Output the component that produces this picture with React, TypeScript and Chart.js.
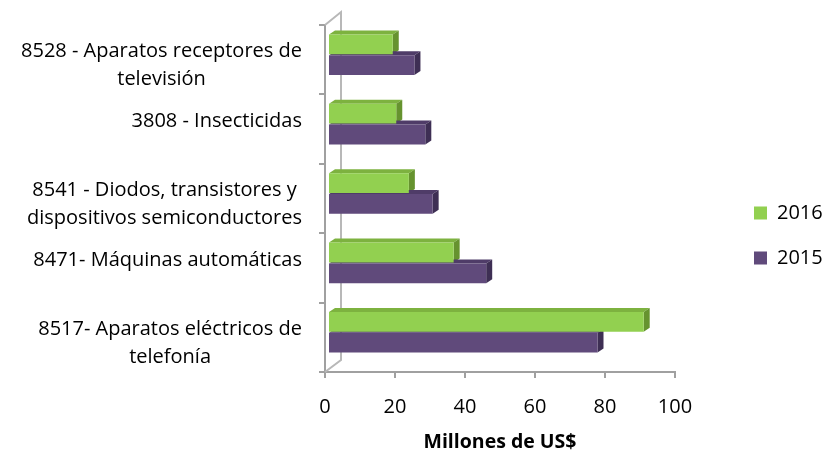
import React, { useEffect, useRef } from 'react';
import { Chart, registerables } from 'chart.js';

Chart.register(...registerables);

const categories: string[][] = [
  ['8528 - Aparatos receptores de', 'televisión'],
  ['3808 - Insecticidas'],
  ['8541 - Diodos, transistores y', 'dispositivos semiconductores'],
  ['8471- Máquinas automáticas'],
  ['8517- Aparatos eléctricos de', 'telefonía'],
];
const seriesNames = ['2016', '2015'];
const values2016 = [18.5, 19.5, 23.1, 35.9, 90.2];
const values2015 = [24.7, 27.8, 29.9, 45.2, 77.0];
const xMin = 0;
const xMax = 100;
const xStep = 20;
const xTitle = 'Millones de US$';

const FONT = "'Open Sans'";
const frontColors = ['#92D050', '#604A7B'];
const topColors = ['#7DB23F', '#4F3C68'];
const sideColors = ['#66932F', '#3E2F54'];

const DX = 6;
const DY = 4;
const SHIFT_X = 3;
const SHIFT_Y = -5;

const wallPlugin = {
  id: 'wall3d',
  beforeDatasetsDraw(chart: any) {
    const { ctx, chartArea } = chart;
    const { left, top, bottom } = chartArea;
    ctx.save();
    ctx.strokeStyle = '#b8b8b8';
    ctx.lineWidth = 2;
    ctx.beginPath();
    ctx.moveTo(left, top);
    ctx.lineTo(left + 16, top - 13);
    ctx.lineTo(left + 16, bottom - 12);
    ctx.lineTo(left, bottom);
    ctx.stroke();
    ctx.restore();
    // bars sit a little behind the front plane
    ctx.save();
    ctx.translate(SHIFT_X, SHIFT_Y);
    chart.data.datasets.forEach((_ds: any, di: number) => {
      const meta = chart.getDatasetMeta(di);
      meta.data.forEach((bar: any) => {
        const p = bar.getProps(['x', 'y', 'base', 'height'], true);
        const t = p.y - p.height / 2;
        const b = p.y + p.height / 2;
        ctx.fillStyle = topColors[di];
        ctx.beginPath();
        ctx.moveTo(p.base, t);
        ctx.lineTo(p.x, t);
        ctx.lineTo(p.x + DX, t - DY);
        ctx.lineTo(p.base + DX, t - DY);
        ctx.closePath();
        ctx.fill();
        ctx.fillStyle = sideColors[di];
        ctx.beginPath();
        ctx.moveTo(p.x, t);
        ctx.lineTo(p.x + DX, t - DY);
        ctx.lineTo(p.x + DX, b - DY);
        ctx.lineTo(p.x, b);
        ctx.closePath();
        ctx.fill();
      });
    });
  },
  afterDatasetsDraw(chart: any) {
    chart.ctx.restore();
  },
  afterDraw(chart: any) {
    const { ctx, chartArea } = chart;
    const yScale = chart.scales.y;
    const right = chartArea.left - 23;
    const lineH = 28;
    ctx.save();
    ctx.font = `20px ${FONT}`;
    ctx.fillStyle = '#000';
    ctx.textAlign = 'center';
    ctx.textBaseline = 'middle';
    categories.forEach((lines, i) => {
      const mid = yScale.getPixelForValue(i);
      const w = Math.max(...lines.map((l) => ctx.measureText(l).width));
      const cx = right - w / 2;
      lines.forEach((l, j) => {
        ctx.fillText(l, cx, mid - 8 + j * lineH);
      });
    });
    ctx.restore();
  },
  afterLayout(chart: any) {
    const lg = chart.legend;
    if (!lg) return;
    const targetLeft = 729;
    const w = lg.width;
    lg.left = targetLeft;
    lg.right = targetLeft + w;
    const h = lg.height;
    const targetTop = 21;
    lg.top = targetTop;
    lg.bottom = targetTop + h;
  },
};

export default function App() {
  const ref = useRef<HTMLCanvasElement | null>(null);
  useEffect(() => {
    document.body.style.margin = '0';
    const canvas = ref.current;
    if (!canvas) return;
    Chart.defaults.font.family = FONT;
    const chart = new Chart(canvas, {
      type: 'bar',
      data: {
        labels: categories.map((c) => c.join(' ')),
        datasets: [
          {
            label: seriesNames[0],
            data: values2016,
            backgroundColor: frontColors[0],
            categoryPercentage: 0.6,
            barPercentage: 0.95,
          },
          {
            label: seriesNames[1],
            data: values2015,
            backgroundColor: frontColors[1],
            categoryPercentage: 0.6,
            barPercentage: 0.95,
          },
        ],
      },
      options: {
        indexAxis: 'y',
        animation: false,
        responsive: true,
        maintainAspectRatio: false,
        layout: { padding: { top: 25, left: 0, right: 0, bottom: 0 } },
        plugins: {
          tooltip: { enabled: false },
          legend: {
            position: 'right',
            align: 'center',
            labels: {
              boxWidth: 13,
              boxHeight: 13,
              padding: 25,
              color: '#000',
              font: { size: 20 },
            },
          },
        },
        scales: {
          x: {
            min: xMin,
            max: xMax,
            ticks: {
              stepSize: xStep,
              color: '#000',
              font: { size: 20 },
              padding: 17,
            },
            grid: {
              drawOnChartArea: false,
              drawTicks: true,
              tickLength: 6,
              color: '#a0a0a0',
              lineWidth: 2,
            },
            border: { display: true, color: '#a0a0a0', width: 2 },
            title: {
              display: true,
              text: xTitle,
              color: '#000',
              font: { size: 19.5, weight: 'bold' },
              padding: { top: 2, bottom: 0 },
            },
            afterFit(scale: any) {
              scale.height = 82;
              scale.paddingRight = 150;
            },
          },
          y: {
            ticks: { display: false },
            grid: {
              drawOnChartArea: false,
              drawTicks: true,
              tickLength: 6,
              color: '#a0a0a0',
              lineWidth: 2,
            },
            border: { display: true, color: '#a0a0a0', width: 2 },
            afterFit(scale: any) {
              scale.width = 325;
            },
          },
        },
      },
      plugins: [wallPlugin],
    });
    return () => chart.destroy();
  }, []);
  return (
    <div style={{ width: 825, height: 454, position: 'relative' }}>
      <canvas ref={ref} />
    </div>
  );
}
